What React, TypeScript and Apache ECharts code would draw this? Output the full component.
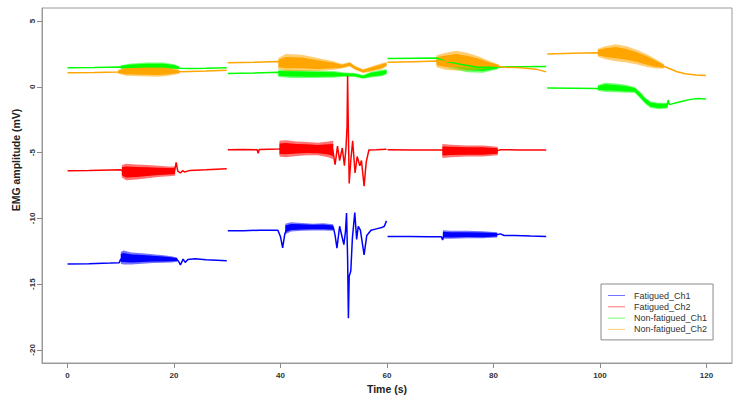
import React, { useEffect, useRef } from 'react';
import * as echarts from 'echarts';

// ---------- data ----------
const seriesNames = ['Fatigued_Ch1', 'Fatigued_Ch2', 'Non-fatigued_Ch1', 'Non-fatigued_Ch2'];
const seriesColors = ['#0000ff', '#ff0000', '#00ff00', '#ffa500'];
const xTicks = [0, 20, 40, 60, 80, 100, 120];
const yTicks = [-20, -15, -10, -5, 0, 5];

type Pt = [number, number | null];
type Env = [number, number | null, number | null];

// Fatigued_Ch1 (mean trace, segments separated by null)
const fatiguedCh1: Pt[] = [
  [0, -13.47], [4, -13.45], [8, -13.4], [9.7, -13.37], [10, -13.1], [11, -12.95], [13, -12.98], [15, -13.0],
  [17, -13.05], [19, -13.08], [20.5, -13.1], [20.9, -13.3], [21.2, -13.55], [21.7, -13.1], [22.1, -13.35],
  [22.6, -13.12], [24, -13.08], [26, -13.15], [28, -13.18], [29.9, -13.22],
  [30, null],
  [30.1, -10.95], [33, -10.95], [36, -10.9], [39.5, -10.9], [40.0, -11.4], [40.4, -12.25], [40.8, -11.2],
  [41.3, -10.7], [44, -10.65], [47, -10.65], [49.9, -10.65], [50.25, -11.3], [50.6, -12.27], [51.1, -10.6],
  [51.5, -11.3], [51.9, -12.0], [52.2, -11.0], [52.4, -9.6], [52.6, -13.0], [52.75, -17.6], [52.9, -14.4],
  [53.2, -14.0], [53.5, -11.5], [53.95, -9.55], [54.3, -11.6], [54.6, -10.6], [55.0, -10.9], [55.7, -12.78],
  [56.2, -11.3], [57, -10.9], [58, -10.8], [59, -10.7], [59.5, -10.6], [59.9, -10.19],
  [60, null],
  [60.1, -11.38], [64, -11.38], [68, -11.4], [70.2, -11.4], [70.45, -11.65], [70.7, -11.2], [73, -11.25],
  [76, -11.25], [78, -11.25], [80.6, -11.25], [81.3, -11.18], [82, -11.3], [84, -11.3], [87, -11.35], [89.9, -11.38],
];
const fatiguedCh1Band: Env[] = [
  [10, -13.45, -12.55], [10.5, -13.5, -12.45], [12, -13.5, -12.6], [14, -13.45, -12.65], [16, -13.4, -12.72],
  [18, -13.38, -12.8], [19.5, -13.35, -12.88], [20.6, -13.3, -12.98],
  [30, null, null],
  [40.9, -11.2, -10.4], [42, -11.0, -10.3], [44, -10.95, -10.35], [46, -10.92, -10.4], [48, -10.92, -10.38],
  [49.9, -10.95, -10.45],
  [60, null, null],
  [70.5, -11.55, -10.9], [72, -11.55, -10.95], [75, -11.52, -10.95], [78, -11.52, -10.98], [80.7, -11.45, -11.05],
];

// Fatigued_Ch2
const fatiguedCh2: Pt[] = [
  [0, -6.38], [4, -6.36], [8, -6.32], [10, -6.3], [10.3, -6.4], [12, -6.45], [15, -6.42], [18, -6.4], [20.1, -6.4],
  [20.4, -5.74], [20.7, -6.4], [21.2, -6.55], [21.6, -6.38], [22, -6.47], [23, -6.35], [26, -6.3], [29.9, -6.23],
  [30, null],
  [30.1, -4.78], [33, -4.76], [35.6, -4.78], [35.8, -5.05], [36, -4.76], [39.6, -4.72], [41, -4.7], [45, -4.72],
  [49.8, -4.75], [50.25, -5.92], [50.7, -4.5], [51.1, -5.6], [51.6, -4.65], [52.0, -6.0], [52.3, -4.6], [52.5, -3.0],
  [52.6, 0.85], [52.75, -3.5], [52.9, -7.35], [53.2, -5.6], [53.55, -4.1], [54.0, -6.55], [54.4, -5.3], [54.9, -6.0],
  [55.2, -5.6], [55.7, -7.55], [56.1, -5.7], [56.6, -4.8], [58, -4.78], [59.9, -4.74],
  [60, null],
  [60.1, -4.78], [65, -4.8], [70.3, -4.8], [72, -4.85], [76, -4.85], [80.8, -4.85], [81.3, -4.78], [85, -4.8], [89.9, -4.8],
];
const fatiguedCh2Band: Env[] = [
  [10.2, -6.9, -5.95], [11, -7.1, -5.85], [13, -7.05, -5.9], [15, -6.95, -5.95], [17, -6.85, -6.0], [19, -6.8, -6.05],
  [20.2, -6.75, -6.05],
  [30, null, null],
  [39.8, -5.3, -4.1], [41, -5.35, -4.05], [43, -5.25, -4.15], [45, -5.2, -4.2], [47, -5.2, -4.25], [49, -5.35, -4.15],
  [49.9, -5.5, -4.1],
  [60, null, null],
  [70.4, -5.4, -4.35], [72, -5.35, -4.4], [75, -5.3, -4.45], [78, -5.3, -4.45], [80.8, -5.2, -4.55],
];

// Non-fatigued_Ch1
const nonFatiguedCh1: Pt[] = [
  [0, 1.45], [5, 1.48], [9.9, 1.52], [12, 1.5], [15, 1.55], [18, 1.55], [20.9, 1.42], [23, 1.4], [26, 1.42], [29.9, 1.46],
  [30, null],
  [30.1, 1.01], [35, 1.06], [39.6, 1.11], [41, 0.95], [45, 0.92], [50, 0.9], [51, 0.95], [52.5, 0.88], [53.5, 0.95],
  [54.5, 0.85], [55.5, 0.72], [56.2, 0.8], [57, 0.92], [58, 0.98], [59, 1.05], [59.9, 1.15],
  [60, null],
  [60.1, 2.16], [65, 2.18], [69.3, 2.2], [71, 1.95], [74, 1.7], [77, 1.5], [80.8, 1.5], [82, 1.52], [85, 1.53], [89.9, 1.55],
  [90, null],
  [90.1, -0.08], [95, -0.1], [99.6, -0.13], [101, 0.0], [103, -0.05], [105, -0.1], [106.5, -0.25], [107.5, -0.6],
  [108.5, -1.05], [109.5, -1.35], [110.5, -1.45], [111.5, -1.5], [112.6, -1.42], [112.8, -1.0], [113, -1.35],
  [114, -1.25], [115.5, -1.1], [117, -0.95], [118.5, -0.88], [119.9, -0.92],
];
const nonFatiguedCh1Band: Env[] = [
  [10, 1.35, 1.65], [12, 1.3, 1.78], [15, 1.28, 1.85], [18, 1.3, 1.85], [20, 1.35, 1.72], [21, 1.4, 1.55],
  [30, null, null],
  [39.6, 0.75, 1.3], [42, 0.68, 1.3], [46, 0.68, 1.25], [50, 0.7, 1.2], [52, 0.78, 1.1], [54, 0.75, 1.05],
  [55.5, 0.62, 0.9], [57, 0.72, 1.15], [59, 0.8, 1.3], [59.9, 0.95, 1.35],
  [60, null, null],
  [69.3, 1.8, 2.3], [72, 1.4, 2.25], [75, 1.12, 2.0], [78, 1.08, 1.8], [80.8, 1.35, 1.65],
  [90, null, null],
  [99.6, -0.3, 0.15], [101, -0.38, 0.32], [103, -0.4, 0.25], [105, -0.45, 0.15], [106.5, -0.45, 0.0],
  [107.5, -0.85, -0.35], [108.5, -1.3, -0.8], [109.5, -1.6, -1.1], [111, -1.7, -1.2], [112.7, -1.65, -1.2],
];

// Non-fatigued_Ch2
const nonFatiguedCh2: Pt[] = [
  [0, 1.07], [5, 1.1], [9.5, 1.14], [12, 1.18], [15, 1.18], [18, 1.17], [20.9, 1.15], [23, 1.17], [26, 1.2], [29.9, 1.27],
  [30, null],
  [30.1, 1.83], [35, 1.88], [39.6, 1.93], [41, 1.85], [45, 1.8], [50, 1.62], [51.5, 1.55], [53, 1.72], [54, 1.45],
  [55.5, 1.2], [57, 1.35], [59, 1.55], [59.9, 1.72],
  [60, null],
  [60.1, 1.88], [65, 1.92], [69.3, 1.96], [72, 1.95], [75, 1.85], [78, 1.7], [80.5, 1.58], [82, 1.5], [85, 1.45],
  [88, 1.35], [89.9, 1.14],
  [90, null],
  [90.1, 2.51], [95, 2.55], [99.6, 2.59], [101, 2.55], [103.5, 2.45], [106.5, 2.3], [109, 2.0], [111.5, 1.65],
  [113, 1.4], [114.5, 1.15], [116, 1.0], [118, 0.9], [119.9, 0.86],
];
const nonFatiguedCh2Band: Env[] = [
  [9.5, 1.0, 1.3], [11, 0.85, 1.5], [14, 0.8, 1.58], [17, 0.78, 1.55], [19, 0.85, 1.5], [21, 1.0, 1.3],
  [30, null, null],
  [39.6, 1.35, 2.2], [41, 1.2, 2.5], [44, 1.2, 2.45], [47, 1.2, 2.2], [50, 1.3, 1.95], [51.5, 1.4, 1.75],
  [53, 1.55, 1.9], [54, 1.3, 1.6], [55.5, 1.05, 1.35], [57, 1.15, 1.55], [59, 1.35, 1.8], [59.9, 1.55, 1.9],
  [60, null, null],
  [69.3, 1.5, 2.4], [71, 1.3, 2.6], [73, 1.25, 2.75], [75, 1.25, 2.6], [77, 1.3, 2.35], [79, 1.4, 2.0], [81, 1.45, 1.7],
  [90, null, null],
  [99.6, 2.3, 2.9], [101, 2.1, 3.1], [103, 1.95, 3.25], [105, 1.85, 3.1], [107, 1.7, 2.8], [109, 1.5, 2.45],
  [110.5, 1.4, 2.1], [112, 1.4, 1.75],
];

const lines = [fatiguedCh1, fatiguedCh2, nonFatiguedCh1, nonFatiguedCh2];
const bands = [fatiguedCh1Band, fatiguedCh2Band, nonFatiguedCh1Band, nonFatiguedCh2Band];

// ---------- helpers ----------
// envelope -> items [t, lo, hi, segmentId]
function toBandItems(env: Env[]) {
  const out: number[][] = [];
  let seg = 0;
  for (const e of env) {
    if (e[1] == null || e[2] == null) {
      seg++;
      continue;
    }
    out.push([e[0], e[1] as number, e[2] as number, seg]);
  }
  return out;
}

const FONT = "'Liberation Sans', Arial, sans-serif";

export default function App() {
  const ref = useRef<HTMLDivElement>(null);

  useEffect(() => {
    if (!ref.current) return;
    const chart = echarts.init(ref.current, undefined, { renderer: 'svg' });

    const series: any[] = [];
    seriesNames.forEach((name, i) => {
      const color = seriesColors[i];
      series.push({
        name: name + ' (noise)',
        type: 'custom',
        coordinateSystem: 'cartesian2d',
        silent: true,
        clip: true,
        encode: { x: 0, y: [1, 2] },
        data: toBandItems(bands[i]),
        renderItem: (params: any, api: any) => {
          const k = params.dataIndexInside;
          const seg = api.value(3, k);
          if (k > 0 && api.value(3, k - 1) === seg) return null;
          const up: number[][] = [];
          const lo: number[][] = [];
          for (let j = k; j < params.dataInsideLength && api.value(3, j) === seg; j++) {
            up.push(api.coord([api.value(0, j), api.value(2, j)]));
            lo.push(api.coord([api.value(0, j), api.value(1, j)]));
          }
          const innerUp = up.map((p, n) => [p[0], (p[1] + lo[n][1]) / 2 + (p[1] - lo[n][1]) * 0.33]);
          const innerLo = lo.map((p, n) => [p[0], (p[1] + up[n][1]) / 2 + (p[1] - up[n][1]) * 0.33]);
          return {
            type: 'group',
            children: [
              {
                type: 'polygon',
                shape: { points: up.concat(lo.slice().reverse()) },
                style: { fill: color, opacity: 0.55 },
              },
              {
                type: 'polygon',
                shape: { points: innerUp.concat(innerLo.slice().reverse()) },
                style: { fill: color },
              },
            ],
          };
        },
      });
      series.push({
        name,
        type: 'line',
        data: lines[i],
        symbol: 'none',
        showSymbol: false,
        connectNulls: false,
        silent: true,
        lineStyle: { color, width: 1.5 },
        itemStyle: { color },
      });
    });

    const axisLineStyle = { show: true, onZero: false, lineStyle: { color: '#9a9a9a', width: 1 } };

    chart.setOption({
      animation: false,
      backgroundColor: '#ffffff',
      grid: {
        left: 42,
        right: 8,
        top: 8,
        bottom: 38,
        show: true,
        borderColor: '#9a9a9a',
        borderWidth: 1,
        backgroundColor: 'transparent',
      },
      xAxis: {
        type: 'value',
        min: -4.8,
        max: 124.8,
        name: 'Time (s)',
        nameLocation: 'middle',
        nameGap: 19,
        nameTextStyle: { fontFamily: FONT, fontWeight: 'bold', fontSize: 10.5, color: '#222' },
        axisLine: axisLineStyle,
        splitLine: { show: false },
        axisTick: { show: true, length: 5, lineStyle: { color: '#8a8a8a' }, customValues: xTicks },
        axisLabel: {
          customValues: xTicks,
          fontFamily: FONT,
          fontWeight: 'bold',
          fontSize: 8,
          color: '#333',
          margin: 8,
        },
      },
      yAxis: {
        type: 'value',
        min: -21,
        max: 6,
        axisLine: axisLineStyle,
        splitLine: { show: false },
        axisTick: { show: true, length: 5, lineStyle: { color: '#8a8a8a' }, customValues: yTicks },
        axisLabel: {
          customValues: yTicks,
          rotate: 90,
          fontFamily: FONT,
          fontWeight: 'bold',
          fontSize: 8,
          color: '#333',
          margin: 6,
        },
      },
      legend: {
        data: seriesNames,
        orient: 'vertical',
        left: 601,
        top: 284,
        padding: [6, 6, 5, 7],
        itemGap: 0.3,
        icon: 'rect',
        itemWidth: 17,
        itemHeight: 1,
        itemStyle: { opacity: 0.55 },
        borderColor: '#8a8a8a',
        borderWidth: 1,
        borderRadius: 0,
        backgroundColor: '#ffffff',
        textStyle: { fontFamily: FONT, fontSize: 9, color: '#333', lineHeight: 11, padding: [0, 0, 0, 4] },
        selectedMode: false,
      },
      graphic: [
        {
          type: 'text',
          x: 16,
          y: 160,
          rotation: Math.PI / 2,
          style: {
            text: 'EMG amplitude (mV)',
            textAlign: 'center',
            textVerticalAlign: 'middle',
            fontFamily: FONT,
            fontWeight: 'bold',
            fontSize: 10.5,
            fill: '#222',
          },
        },
      ],
      series,
    });

    return () => chart.dispose();
  }, []);

  return (
    <div
      ref={ref}
      style={{ position: 'absolute', left: 0, top: 0, width: 740, height: 401, background: '#fff' }}
    />
  );
}
